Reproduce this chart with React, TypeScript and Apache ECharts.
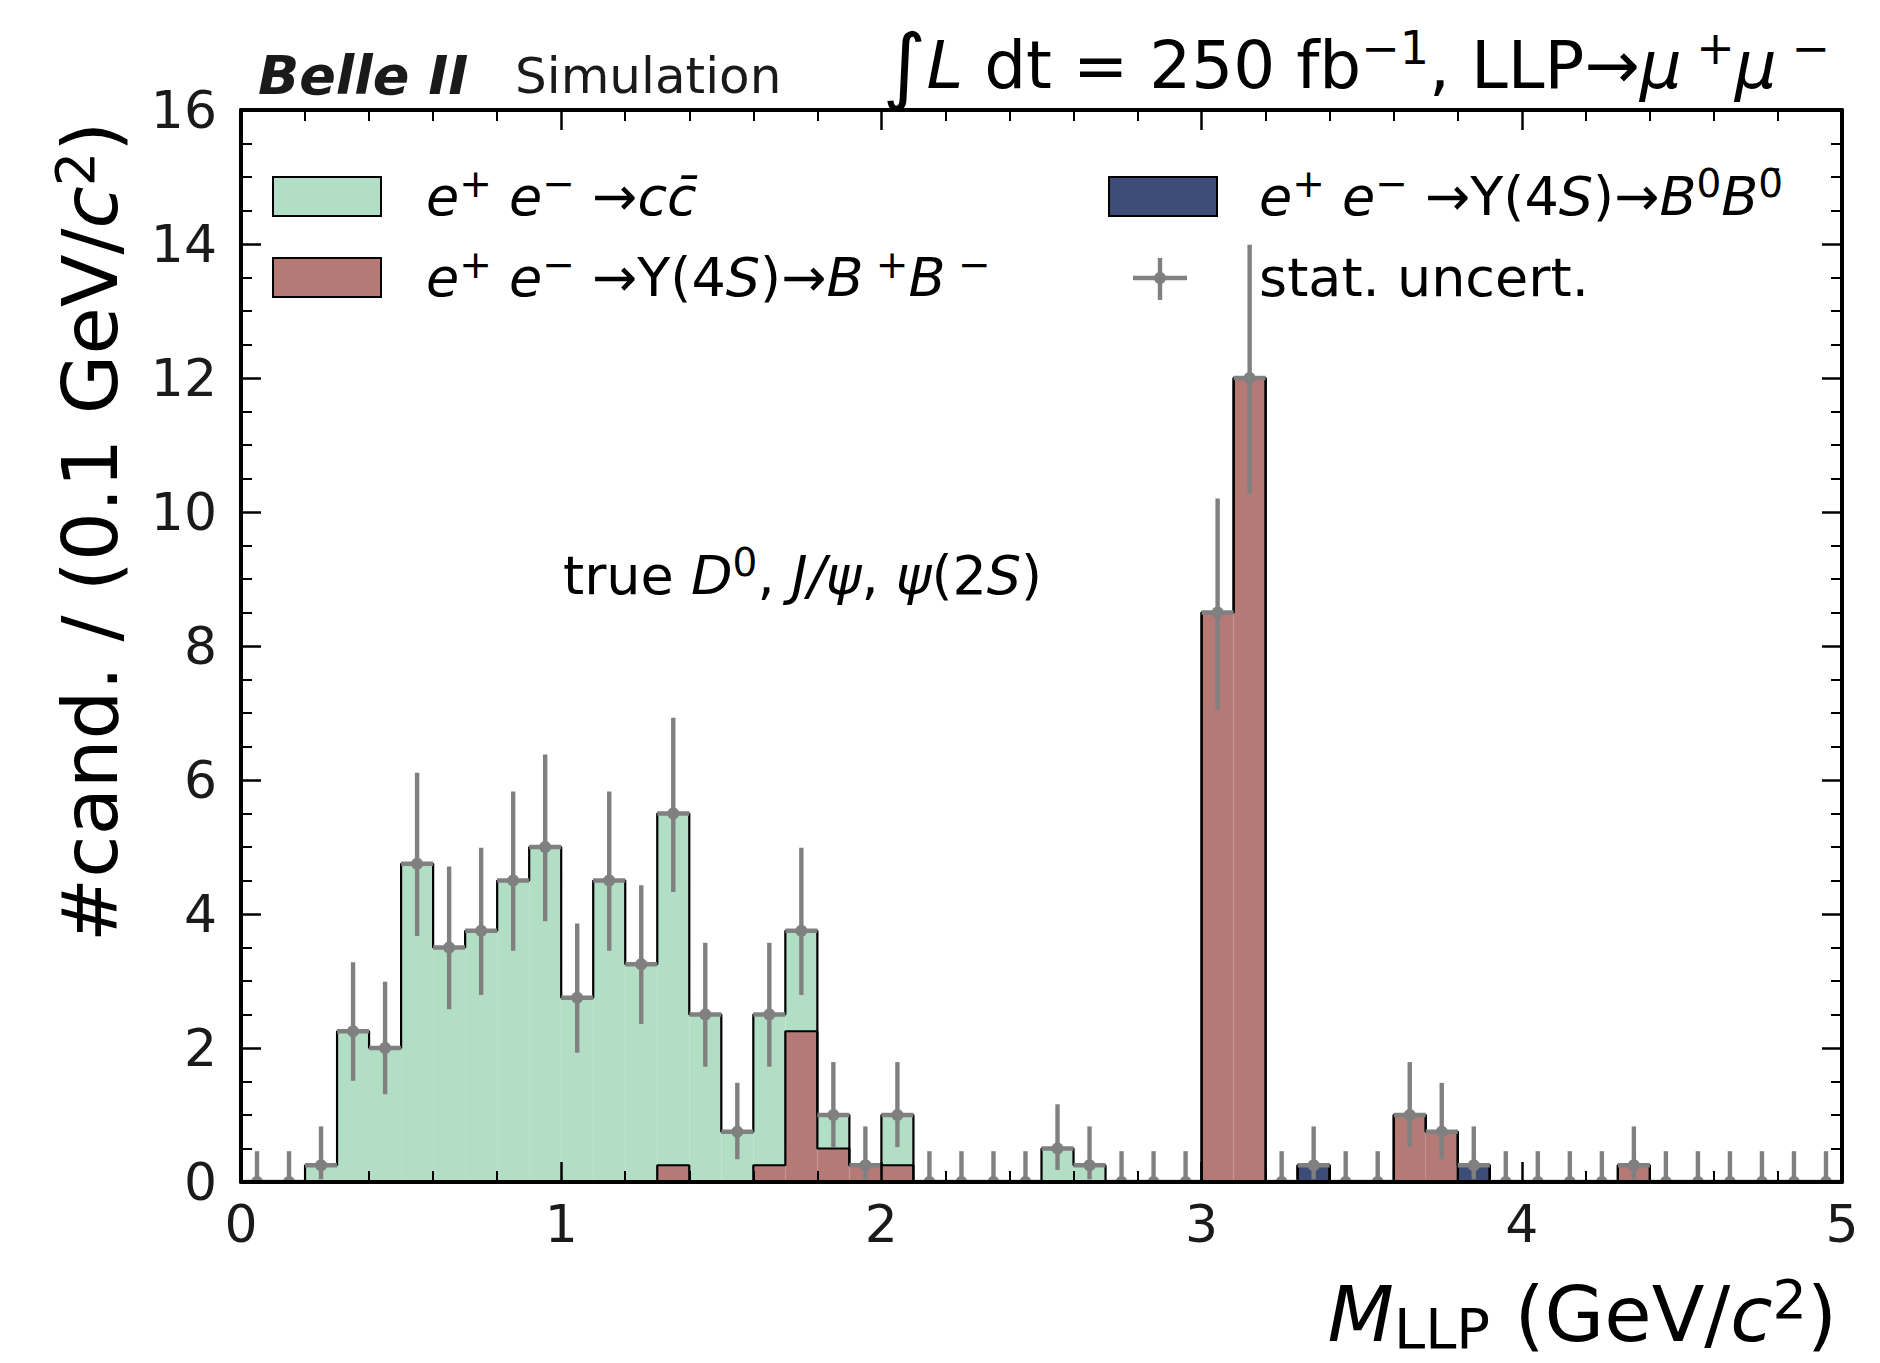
import React, { useEffect, useRef } from 'react';
import * as echarts from 'echarts';

// ---------- data (50 bins of 0.1 GeV/c^2 from 0 to 5) ----------
const binEdges: number[] = Array.from({ length: 51 }, (_, i) => i / 10);

const ccbar = [
  0, 0, 0.25, 2.25, 2.0, 4.75, 3.5, 3.75, 4.5, 5.0,
  2.75, 4.5, 3.25, 5.25, 2.5, 0.75, 2.25, 1.5, 0.5, 0,
  0.75, 0, 0, 0, 0, 0.5, 0.25, 0, 0, 0,
  0, 0, 0, 0, 0, 0, 0, 0, 0, 0,
  0, 0, 0, 0, 0, 0, 0, 0, 0, 0,
];
const bPlusBMinus = [
  0, 0, 0, 0, 0, 0, 0, 0, 0, 0,
  0, 0, 0, 0.25, 0, 0, 0.25, 2.25, 0.5, 0.25,
  0.25, 0, 0, 0, 0, 0, 0, 0, 0, 0,
  8.5, 12, 0, 0, 0, 0, 1.0, 0.75, 0, 0,
  0, 0, 0, 0.25, 0, 0, 0, 0, 0, 0,
];
const bZeroBZeroBar = [
  0, 0, 0, 0, 0, 0, 0, 0, 0, 0,
  0, 0, 0, 0, 0, 0, 0, 0, 0, 0,
  0, 0, 0, 0, 0, 0, 0, 0, 0, 0,
  0, 0, 0, 0.25, 0, 0, 0, 0, 0.25, 0,
  0, 0, 0, 0, 0, 0, 0, 0, 0, 0,
];
// statistical uncertainty band (lower / upper edge of the grey bars)
const statLow = [
  0, 0, 0.04, 1.51, 1.31, 3.67, 2.58, 2.79, 3.45, 3.89,
  1.93, 3.45, 2.36, 4.33, 1.72, 0.34, 1.72, 2.79, 0.52, 0.04,
  0.52, 0, 0, 0, 0, 0.18, 0.04, 0, 0, 0,
  7.04, 10.27, 0, 0.04, 0, 0, 0.52, 0.34, 0.04, 0,
  0, 0, 0, 0.04, 0, 0, 0, 0, 0, 0,
];
const statHigh = [
  0.46, 0.46, 0.83, 3.28, 2.99, 6.11, 4.71, 4.99, 5.83, 6.38,
  3.86, 5.83, 4.43, 6.93, 3.57, 1.48, 3.57, 4.99, 1.79, 0.83,
  1.79, 0.46, 0.46, 0.46, 0.46, 1.16, 0.83, 0.46, 0.46, 0.46,
  10.2, 13.99, 0.46, 0.83, 0.46, 0.46, 1.79, 1.48, 0.83, 0.46,
  0.46, 0.46, 0.46, 0.83, 0.46, 0.46, 0.46, 0.46, 0.46, 0.46,
];
const xTickValues = [0, 1, 2, 3, 4, 5];
const yTickValues = [0, 2, 4, 6, 8, 10, 12, 14, 16];

// ---------- styles ----------
const GREEN = '#b2dec5';
const RED = '#b57a76';
const NAVY = '#3d4c78';
const GREY = '#808080';
const INK = '#1a1a1a';
const FONT = 'DejaVu Sans';

function cumulative(...layers: number[][]): number[] {
  return layers[0].map((_, i) => layers.reduce((s, l) => s + l[i], 0));
}

export default function App() {
  const ref = useRef<HTMLDivElement>(null);

  useEffect(() => {
    if (!ref.current) return;
    const chart = echarts.init(ref.current, undefined, { renderer: 'svg' });

    const cum1 = cumulative(bZeroBZeroBar);
    const cum2 = cumulative(bZeroBZeroBar, bPlusBMinus);
    const cum3 = cumulative(bZeroBZeroBar, bPlusBMinus, ccbar);
    const nBins = binEdges.length - 1;

    const fillData = (base: number[], top: number[]) => {
      const out: number[][] = [];
      for (let i = 0; i < nBins; i++) {
        if (top[i] > base[i]) out.push([binEdges[i], binEdges[i + 1], base[i], top[i]]);
      }
      return out;
    };
    const zeros = binEdges.slice(0, nBins).map(() => 0);

    const fillSeries = (name: string, data: number[][], color: string) => ({
      name,
      type: 'custom',
      clip: true,
      z: 2,
      encode: { x: [0, 1], y: [2, 3] },
      data,
      renderItem: (_p: any, api: any) => {
        const p0 = api.coord([api.value(0), api.value(3)]);
        const p1 = api.coord([api.value(1), api.value(2)]);
        return {
          type: 'rect',
          shape: { x: p0[0], y: p0[1], width: p1[0] - p0[0], height: p1[1] - p0[1] },
          style: { fill: color, stroke: null },
        };
      },
    });

    const outlineSeries = (cum: number[]) => ({
      type: 'line',
      step: 'end',
      symbol: 'none',
      z: 3,
      lineStyle: { color: '#000', width: 2.2 },
      data: [...cum.map((v, i) => [binEdges[i], v]), [binEdges[nBins], 0]],
    });

    const errData = cum3.map((t, i) => [
      (binEdges[i] + binEdges[i + 1]) / 2, t, statLow[i], statHigh[i], binEdges[i], binEdges[i + 1],
    ]);

    const base = { fontFamily: FONT, color: INK };
    const legendRich = {
      n: { ...base, fontSize: 54, lineHeight: 64, verticalAlign: 'middle' },
      i: { ...base, fontSize: 54, lineHeight: 64, fontStyle: 'italic', verticalAlign: 'middle' },
      s: { ...base, fontSize: 39, lineHeight: 30, verticalAlign: 'top' },
    };
    const titleRich = {
      n: { ...base, fontSize: 77, lineHeight: 84, verticalAlign: 'middle' },
      i: { ...base, fontSize: 77, lineHeight: 84, fontStyle: 'italic', verticalAlign: 'middle' },
      s: { ...base, fontSize: 54, lineHeight: 36, verticalAlign: 'top' },
      sub: { ...base, fontSize: 56, lineHeight: 46, verticalAlign: 'bottom' },
    };

    const axisCommon = {
      type: 'value',
      z: 6,
      axisLine: { show: true, onZero: false, lineStyle: { color: '#000', width: 4 } },
      axisTick: { show: true, inside: true, length: 20, lineStyle: { color: '#000', width: 2.5 } },
      splitLine: { show: false },
    };

    const option: any = {
      animation: false,
      backgroundColor: '#ffffff',
      grid: { left: 241, right: 38, top: 110, bottom: 181, containLabel: false },
      xAxis: [
        {
          ...axisCommon,
          min: xTickValues[0], max: xTickValues[xTickValues.length - 1], interval: 1,
          position: 'bottom',
          minorTick: { show: true, splitNumber: 5, length: 11, lineStyle: { color: '#000', width: 2 } },
          axisLabel: { show: true, margin: 16, fontSize: 52, fontFamily: FONT, color: INK, formatter: (v: number) => String(v) },
        },
        {
          ...axisCommon,
          min: xTickValues[0], max: xTickValues[xTickValues.length - 1], interval: 1,
          position: 'top',
          minorTick: { show: true, splitNumber: 5, length: 11, lineStyle: { color: '#000', width: 2 } },
          axisLabel: { show: false },
        },
      ],
      yAxis: [
        {
          ...axisCommon,
          min: yTickValues[0], max: yTickValues[yTickValues.length - 1], interval: 2,
          position: 'left',
          minorTick: { show: true, splitNumber: 4, length: 11, lineStyle: { color: '#000', width: 2 } },
          axisLabel: { show: true, margin: 24, fontSize: 52, fontFamily: FONT, color: INK },
        },
        {
          ...axisCommon,
          min: yTickValues[0], max: yTickValues[yTickValues.length - 1], interval: 2,
          position: 'right',
          minorTick: { show: true, splitNumber: 4, length: 11, lineStyle: { color: '#000', width: 2 } },
          axisLabel: { show: false },
        },
      ],
      series: [
        fillSeries('B0B0bar', fillData(zeros, cum1), NAVY),
        fillSeries('B+B-', fillData(cum1, cum2), RED),
        fillSeries('ccbar', fillData(cum2, cum3), GREEN),
        outlineSeries(cum1),
        outlineSeries(cum2),
        outlineSeries(cum3),
        {
          type: 'custom',
          clip: true,
          z: 4,
          encode: { x: [0, 4, 5], y: [1, 2, 3] },
          data: errData,
          renderItem: (_p: any, api: any) => {
            const c = api.coord([api.value(0), api.value(1)]);
            const lo = api.coord([api.value(0), api.value(2)]);
            const hi = api.coord([api.value(0), api.value(3)]);
            const l = api.coord([api.value(4), api.value(1)]);
            const r = api.coord([api.value(5), api.value(1)]);
            const st = { stroke: GREY, lineWidth: 4.4 };
            return {
              type: 'group',
              children: [
                { type: 'line', shape: { x1: lo[0], y1: lo[1], x2: hi[0], y2: hi[1] }, style: st },
                { type: 'line', shape: { x1: l[0], y1: l[1], x2: r[0], y2: r[1] }, style: st },
                { type: 'circle', shape: { cx: c[0], cy: c[1], r: 6 }, style: { fill: GREY } },
              ],
            };
          },
        },
      ],
      graphic: [
        // header left
        { type: 'text', x: 258, y: 75, style: { text: 'Belle II', fontFamily: FONT, fontSize: 54, fontWeight: 'bold', fontStyle: 'italic', fill: INK, align: 'left', verticalAlign: 'middle' } },
        { type: 'text', x: 515, y: 76, style: { text: 'Simulation', fontFamily: FONT, fontSize: 50, fill: INK, align: 'left', verticalAlign: 'middle' } },
        // header right
        {
          type: 'text', x: 1830, y: 65,
          style: {
            text: '{int|∫}{i|L}{n| dt = 250 fb}{s|−1}{n|, LLP→}{i|μ}{s| +}{i|μ}{s| −}',
            align: 'right', verticalAlign: 'middle',
            rich: {
              int: { ...base, fontSize: 84, lineHeight: 80, verticalAlign: 'middle' },
              n: { ...base, fontSize: 66, lineHeight: 80, verticalAlign: 'middle' },
              i: { ...base, fontSize: 66, lineHeight: 80, fontStyle: 'italic', verticalAlign: 'middle' },
              s: { ...base, fontSize: 46, lineHeight: 42, verticalAlign: 'top' },
            },
          },
        },
        // legend
        { type: 'rect', shape: { x: 273, y: 177, width: 108, height: 39 }, style: { fill: GREEN, stroke: '#000', lineWidth: 2 } },
        { type: 'rect', shape: { x: 273, y: 258, width: 108, height: 39 }, style: { fill: RED, stroke: '#000', lineWidth: 2 } },
        { type: 'rect', shape: { x: 1109, y: 177, width: 108, height: 39 }, style: { fill: NAVY, stroke: '#000', lineWidth: 2 } },
        {
          type: 'group',
          children: [
            { type: 'line', shape: { x1: 1133, y1: 278, x2: 1187, y2: 278 }, style: { stroke: GREY, lineWidth: 4.4 } },
            { type: 'line', shape: { x1: 1160, y1: 258, x2: 1160, y2: 300 }, style: { stroke: GREY, lineWidth: 4.4 } },
            { type: 'circle', shape: { cx: 1160, cy: 278, r: 6 }, style: { fill: GREY } },
          ],
        },
        { type: 'text', x: 426, y: 196, style: { text: '{i|e}{s|+}{i| e}{s|−}{n| →}{i|cc̄}', rich: legendRich, align: 'left', verticalAlign: 'middle' } },
        { type: 'text', x: 426, y: 277, style: { text: '{i|e}{s|+}{i| e}{s|−}{n| →Υ(4}{i|S}{n|)→}{i|B}{s| +}{i|B}{s| −}', rich: legendRich, align: 'left', verticalAlign: 'middle' } },
        { type: 'text', x: 1259, y: 196, style: { text: '{i|e}{s|+}{i| e}{s|−}{n| →Υ(4}{i|S}{n|)→}{i|B}{s|0}{i|B}{s|0̄}', rich: legendRich, align: 'left', verticalAlign: 'middle' } },
        { type: 'text', x: 1259, y: 277, style: { text: '{n|stat. uncert.}', rich: legendRich, align: 'left', verticalAlign: 'middle' } },
        // annotation
        { type: 'text', x: 563, y: 575, style: { text: '{n|true }{i|D}{s|0}{n|, }{i|J/ψ}{n|, }{i|ψ}{n|(2}{i|S}{n|)}', rich: legendRich, align: 'left', verticalAlign: 'middle' } },
        // axis titles
        {
          type: 'text', x: 1837, y: 1314,
          style: {
            text: '{i|M}{sub|LLP}{n| (GeV/}{i|c}{s|2}{n|)}',
            align: 'right', verticalAlign: 'middle',
            rich: titleRich,
          },
        },
        {
          type: 'text', x: 90, y: 532, rotation: Math.PI / 2,
          style: {
            text: '{n|#cand. / (0.1 GeV/}{i|c}{s|2}{n|)}',
            align: 'center', verticalAlign: 'middle',
            rich: titleRich,
          },
        },
      ],
    };

    chart.setOption(option);
    return () => chart.dispose();
  }, []);

  return <div ref={ref} style={{ position: 'absolute', left: 0, top: 0, width: 1880, height: 1363 }} />;
}
